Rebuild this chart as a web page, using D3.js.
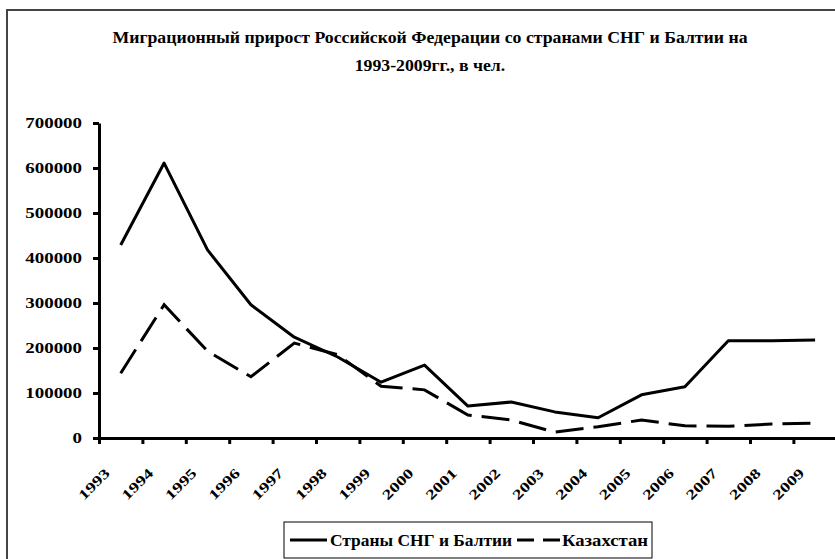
<!DOCTYPE html>
<html>
<head>
<meta charset="utf-8">
<script src="https://cdn.jsdelivr.net/npm/d3@7"></script>
<style>
  body { margin: 0; background: #fff; }
  text { font-family: "Liberation Serif", "Times New Roman", serif; font-weight: bold; fill: #000; }
</style>
</head>
<body>
<div id="chart"></div>
<script>
const years = ["1993","1994","1995","1996","1997","1998","1999","2000","2001",
               "2002","2003","2004","2005","2006","2007","2008","2009"];
const cisBaltic = [429000,611000,418000,296000,224000,180000,124000,162000,71000,
                   80000,58000,45000,96000,114000,216000,216000,218000];
const kazakhstan = [144000,296000,193000,136000,211000,185000,115000,107000,51000,
                    40000,13000,25000,40000,27000,26000,31000,33000];
const yTicks = [0,100000,200000,300000,400000,500000,600000,700000];
const titleLines = ["Миграционный прирост Российской Федерации со странами СНГ и Балтии на",
                    "1993-2009гг., в чел."];
const seriesNames = ["Страны СНГ и Балтии", "Казахстан"];

const w = 835, h = 559;
const plotLeft = 99, plotRight = 836.8, plotTop = 123, plotBottom = 438;
const k = 1.35; // the picture is stretched horizontally

const svg = d3.select("#chart").append("svg").attr("width", w).attr("height", h);

// frame
svg.append("rect").attr("x", 7).attr("y", 10).attr("width", 900).attr("height", 600)
   .attr("fill", "none").attr("stroke", "#444").attr("stroke-width", 2);

function stretch(sel, f) {
  sel.each(function() {
    const len = this.getComputedTextLength();
    d3.select(this).attr("textLength", len * f).attr("lengthAdjust", "spacingAndGlyphs");
  });
}

// title
const t1 = svg.append("text").attr("x", 430).attr("y", 43).attr("text-anchor", "middle")
   .style("font-size", "17px").text(titleLines[0]);
const tk = 635 / t1.node().getComputedTextLength();
t1.attr("textLength", 635).attr("lengthAdjust", "spacingAndGlyphs");
const t2 = svg.append("text").attr("x", 430).attr("y", 71).attr("text-anchor", "middle")
   .style("font-size", "17px").text(titleLines[1]);
stretch(t2, tk);

const x = d3.scaleBand().domain(years).range([plotLeft, plotRight]);
const xEdge = d3.scaleLinear().domain([0, years.length]).range([plotLeft, plotRight]);
const y = d3.scaleLinear().domain([0, 700000]).range([plotBottom, plotTop]);

// y axis
const yAxis = svg.append("g").attr("transform", `translate(${plotLeft},0)`)
   .call(d3.axisLeft(y).tickValues(yTicks).tickSize(6).tickSizeOuter(0).tickPadding(11).tickFormat(d3.format("d")));
yAxis.attr("font-family", null).attr("font-size", null);
yAxis.select(".domain").attr("stroke-width", 3);
yAxis.selectAll(".tick line").attr("stroke-width", 3);
yAxis.selectAll(".tick text").style("font-size", "14px");
stretch(yAxis.selectAll(".tick text"), k);

// x axis (ticks between categories)
const xAxis = svg.append("g").attr("transform", `translate(0,${plotBottom})`)
   .call(d3.axisBottom(xEdge).tickValues(d3.range(0, years.length + 1)).tickSize(6).tickSizeOuter(0).tickFormat(""));
xAxis.select(".domain").attr("stroke-width", 3);
xAxis.selectAll(".tick line").attr("stroke-width", 3);

const xl = svg.append("g").selectAll("text").data(years).join("text")
   .attr("transform", d => `translate(${x(d) + x.bandwidth()/2 - 10},474) rotate(-45)`)
   .attr("text-anchor", "end").style("font-size", "14px").text(d => d);
stretch(xl, k);

// lines
const line = d3.line().x((d, i) => x(years[i]) + x.bandwidth()/2).y(d => y(d));
svg.append("path").datum(cisBaltic).attr("d", line).attr("fill", "none")
   .attr("stroke", "#000").attr("stroke-width", 3).attr("stroke-linejoin", "round");
svg.append("path").datum(kazakhstan).attr("d", line).attr("fill", "none")
   .attr("stroke", "#000").attr("stroke-width", 3).attr("stroke-dasharray", "28,10");

// legend
const lg = svg.append("g");
lg.append("rect").attr("x", 284).attr("y", 522).attr("width", 368).attr("height", 36)
   .attr("fill", "#fff").attr("stroke", "#000").attr("stroke-width", 1);
lg.append("line").attr("x1", 290).attr("x2", 327).attr("y1", 540).attr("y2", 540)
   .attr("stroke", "#000").attr("stroke-width", 3);
lg.append("text").attr("x", 330).attr("y", 546).style("font-size", "17px").text(seriesNames[0])
   .attr("textLength", 182).attr("lengthAdjust", "spacingAndGlyphs");
lg.append("line").attr("x1", 517).attr("x2", 560).attr("y1", 540).attr("y2", 540)
   .attr("stroke", "#000").attr("stroke-width", 3).attr("stroke-dasharray", "17,9");
lg.append("text").attr("x", 562).attr("y", 546).style("font-size", "17px").text(seriesNames[1])
   .attr("textLength", 86).attr("lengthAdjust", "spacingAndGlyphs");
</script>
</body>
</html>
